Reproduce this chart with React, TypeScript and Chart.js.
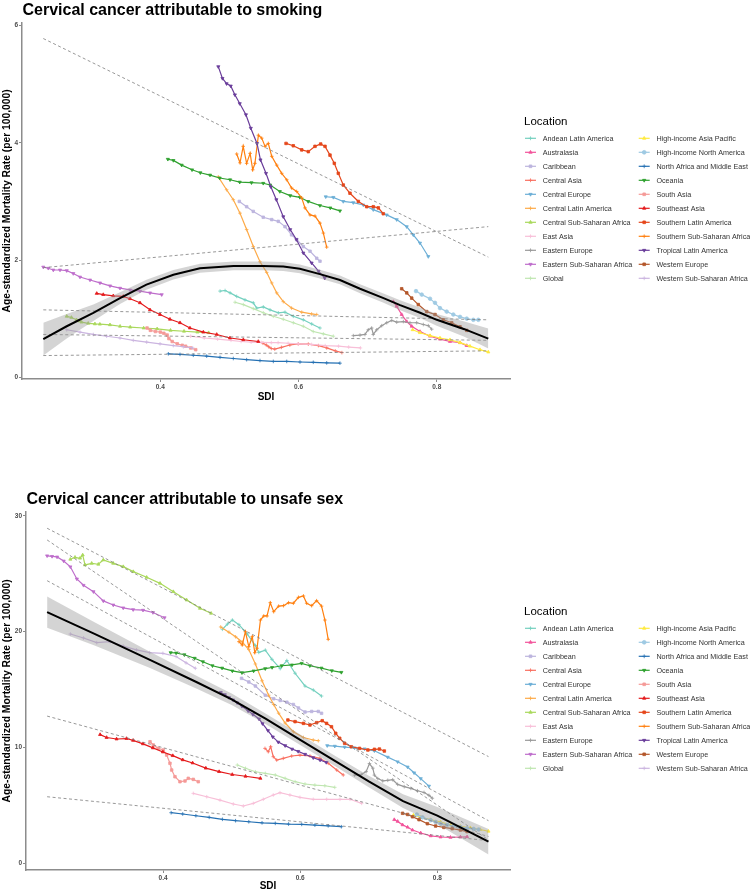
import { useEffect, useRef } from "react";
import { Chart, registerables } from "chart.js";
import { drawPoint } from "chart.js/helpers";

Chart.register(...registerables);

const FONT = '"Liberation Sans", Arial, Helvetica, sans-serif';
Chart.defaults.font.family = FONT;

// ---- Regional trajectories, 1990-2019: SDI and age-standardized mortality per 100,000 ----
const ANDEAN_SDI = [0.4865, 0.4938, 0.501, 0.5106, 0.5226, 0.5346, 0.5396, 0.5491, 0.5588, 0.5708, 0.5805, 0.5925, 0.607, 0.6191, 0.6311];
const ANDEAN_SMOKING = [1.47, 1.48, 1.44, 1.38, 1.32, 1.27, 1.18, 1.2, 1.15, 1.1, 1.11, 1.04, 0.98, 0.91, 0.84];
const ANDEAN_UNSAFE = [20.2, 20.65, 21.0, 20.6, 19.8, 18.8, 18.2, 18.4, 17.6, 16.8, 17.5, 16.4, 15.3, 14.95, 14.43];

const AUSTRALASIA_SDI = [0.7372, 0.7421, 0.7493, 0.7566, 0.7638, 0.7758, 0.7903, 0.8047, 0.8192, 0.8337, 0.8434];
const AUSTRALASIA_SMOKING = [1.29, 1.21, 1.07, 0.95, 0.87, 0.78, 0.7, 0.65, 0.61, 0.59, 0.54];
const AUSTRALASIA_UNSAFE = [3.75, 3.6, 3.3, 3.1, 2.85, 2.6, 2.35, 2.25, 2.22, 2.25, 2.27];

const CARIBBEAN_SDI = [0.5144, 0.525, 0.5346, 0.549, 0.5613, 0.5708, 0.5805, 0.59, 0.5974, 0.607, 0.6167, 0.6264, 0.6311];
const CARIBBEAN_SMOKING = [3.0, 2.91, 2.83, 2.73, 2.69, 2.66, 2.57, 2.43, 2.35, 2.23, 2.15, 2.03, 1.98];
const CARIBBEAN_UNSAFE = [15.96, 15.65, 15.3, 14.5, 14.2, 14.05, 13.9, 13.7, 13.4, 13.05, 13.1, 13.1, 12.94];

const CENTRAL_ASIA_SDI = [0.5486, 0.5534, 0.5569, 0.5607, 0.5657, 0.5753, 0.5875, 0.5997, 0.6142, 0.6288, 0.6409, 0.6532, 0.6628];
const CENTRAL_ASIA_SMOKING = [0.58, 0.55, 0.52, 0.49, 0.48, 0.51, 0.55, 0.57, 0.565, 0.54, 0.5, 0.45, 0.42];
const CENTRAL_ASIA_UNSAFE = [9.91, 9.62, 10.05, 9.19, 8.9, 9.05, 9.25, 9.33, 9.25, 9.05, 8.62, 8.04, 7.61];

const CENTRAL_EUROPE_SDI = [0.6394, 0.6504, 0.6648, 0.6793, 0.6938, 0.7082, 0.7276, 0.7421, 0.7566, 0.7661, 0.7758, 0.7878];
const CENTRAL_EUROPE_SMOKING = [3.08, 3.07, 3.0, 2.98, 2.94, 2.86, 2.77, 2.69, 2.57, 2.43, 2.29, 2.06];
const CENTRAL_EUROPE_UNSAFE = [10.15, 10.1, 10.02, 9.96, 9.87, 9.7, 9.15, 8.75, 8.3, 7.8, 7.3, 6.65];

const CENTRAL_LATAM_SDI = [0.484, 0.496, 0.5057, 0.5154, 0.525, 0.5346, 0.5443, 0.554, 0.5613, 0.5685, 0.578, 0.59, 0.6047, 0.619, 0.6264];
const CENTRAL_LATAM_SMOKING = [3.42, 3.2, 3.03, 2.8, 2.52, 2.23, 1.97, 1.79, 1.61, 1.44, 1.29, 1.18, 1.11, 1.08, 1.07];
const CENTRAL_LATAM_UNSAFE = [20.4, 19.95, 19.55, 19.1, 18.45, 17.2, 15.75, 14.5, 13.7, 12.95, 12.1, 11.35, 10.85, 10.63, 10.57];

const CENTRAL_SSA_SDI = [0.2647, 0.2715, 0.2788, 0.2827, 0.2861, 0.2958, 0.3055, 0.3127, 0.3273, 0.3419, 0.3565, 0.376, 0.3955, 0.4149, 0.4344, 0.4538, 0.47];
const CENTRAL_SSA_SMOKING = [1.04, 1.02, 0.98, 0.96, 0.94, 0.92, 0.91, 0.905, 0.895, 0.87, 0.855, 0.84, 0.825, 0.8, 0.785, 0.77, 0.76];
const CENTRAL_SSA_UNSAFE = [26.25, 26.42, 26.34, 26.62, 25.76, 25.9, 25.82, 26.19, 25.9, 25.61, 25.18, 24.69, 24.17, 23.45, 22.73, 22.01, 21.58];

const EAST_ASIA_SDI = [0.444, 0.4636, 0.483, 0.5024, 0.517, 0.5315, 0.5461, 0.5607, 0.5705, 0.585, 0.5997, 0.619, 0.6386, 0.658, 0.6726, 0.6896];
const EAST_ASIA_SMOKING = [0.7, 0.67, 0.65, 0.63, 0.61, 0.6, 0.595, 0.59, 0.59, 0.58, 0.57, 0.56, 0.54, 0.53, 0.515, 0.5];
const EAST_ASIA_UNSAFE = [6.02, 5.73, 5.44, 5.1, 4.93, 5.16, 5.51, 5.88, 6.08, 5.88, 5.68, 5.51, 5.51, 5.51, 5.51, 5.16];

const EASTERN_EUROPE_SDI = [0.6793, 0.689, 0.6962, 0.701, 0.7059, 0.7082, 0.7132, 0.7204, 0.7277, 0.7349, 0.7421, 0.7517, 0.7613, 0.771, 0.7806, 0.7878, 0.7927];
const EASTERN_EUROPE_SMOKING = [0.71, 0.72, 0.73, 0.81, 0.84, 0.73, 0.81, 0.88, 0.93, 0.97, 0.94, 0.95, 0.93, 0.93, 0.9, 0.88, 0.82];
const EASTERN_EUROPE_UNSAFE = [7.6, 7.65, 7.9, 8.6, 8.2, 7.6, 7.3, 7.1, 7.15, 7.2, 6.8, 6.6, 6.45, 6.25, 6.1, 5.85, 5.6];

const EASTERN_SSA_SDI = [0.2308, 0.238, 0.2453, 0.255, 0.2647, 0.2742, 0.2839, 0.2984, 0.3128, 0.3273, 0.3418, 0.3563, 0.3707, 0.3852, 0.4021];
const EASTERN_SSA_SMOKING = [1.88, 1.86, 1.83, 1.83, 1.82, 1.77, 1.71, 1.66, 1.61, 1.56, 1.52, 1.49, 1.47, 1.44, 1.41];
const EASTERN_SSA_UNSAFE = [26.55, 26.5, 26.45, 26.1, 25.6, 24.55, 24.0, 23.45, 22.65, 22.3, 22.05, 21.9, 21.85, 21.65, 21.2];

const GLOBAL_SDI = [0.5082, 0.5202, 0.5346, 0.5491, 0.5636, 0.578, 0.5925, 0.607, 0.6214, 0.6359, 0.6504];
const GLOBAL_SMOKING = [1.28, 1.24, 1.17, 1.1, 1.04, 0.99, 0.93, 0.87, 0.78, 0.74, 0.7];
const GLOBAL_UNSAFE = [8.47, 8.19, 7.89, 7.75, 7.61, 7.32, 7.03, 6.83, 6.74, 6.68, 6.54];

const HI_ASIA_PACIFIC_SDI = [0.7652, 0.7758, 0.7903, 0.8047, 0.8192, 0.8337, 0.8481, 0.8626, 0.8746];
const HI_ASIA_PACIFIC_SMOKING = [0.81, 0.76, 0.71, 0.67, 0.64, 0.59, 0.53, 0.47, 0.43];
const HI_ASIA_PACIFIC_UNSAFE = [4.15, 3.95, 3.75, 3.55, 3.3, 3.17, 3.05, 2.9, 2.75];

const HI_NORTH_AMERICA_SDI = [0.77, 0.7783, 0.7903, 0.7975, 0.8047, 0.8144, 0.824, 0.8337, 0.8434, 0.853, 0.8602];
const HI_NORTH_AMERICA_SMOKING = [1.47, 1.41, 1.34, 1.27, 1.18, 1.12, 1.07, 1.03, 1.0, 0.98, 0.98];
const HI_NORTH_AMERICA_UNSAFE = [4.2, 3.95, 3.7, 3.55, 3.4, 3.3, 3.2, 3.1, 3.0, 2.95, 2.9];

const NORTH_AFRICA_ME_SDI = [0.4117, 0.4286, 0.4478, 0.4672, 0.4865, 0.5057, 0.525, 0.5443, 0.5636, 0.583, 0.6022, 0.6214, 0.6408, 0.66];
const NORTH_AFRICA_ME_SMOKING = [0.4, 0.39, 0.375, 0.36, 0.34, 0.32, 0.3, 0.285, 0.27, 0.27, 0.26, 0.255, 0.245, 0.24];
const NORTH_AFRICA_ME_UNSAFE = [4.35, 4.24, 4.09, 3.95, 3.78, 3.66, 3.57, 3.48, 3.43, 3.37, 3.34, 3.28, 3.22, 3.14];

const OCEANIA_SDI = [0.411, 0.419, 0.431, 0.446, 0.458, 0.472, 0.486, 0.501, 0.515, 0.532, 0.549, 0.559, 0.573, 0.588, 0.602, 0.614, 0.631, 0.646, 0.66];
const OCEANIA_SMOKING = [3.72, 3.7, 3.62, 3.54, 3.49, 3.45, 3.4, 3.37, 3.33, 3.32, 3.31, 3.28, 3.17, 3.1, 3.07, 3.0, 2.93, 2.89, 2.84];
const OCEANIA_UNSAFE = [18.18, 18.15, 18.0, 17.7, 17.4, 17.05, 16.85, 16.6, 16.45, 16.6, 16.8, 16.9, 17.05, 17.12, 17.26, 17.05, 16.85, 16.62, 16.48];

const SOUTH_ASIA_SDI = [0.3809, 0.3857, 0.393, 0.4003, 0.4052, 0.41, 0.4125, 0.4173, 0.4246, 0.4319, 0.4367, 0.444, 0.4513];
const SOUTH_ASIA_SMOKING = [0.84, 0.8, 0.78, 0.77, 0.75, 0.72, 0.66, 0.61, 0.57, 0.545, 0.53, 0.5, 0.47];
const SOUTH_ASIA_UNSAFE = [10.48, 10.2, 9.91, 9.77, 9.33, 8.62, 8.04, 7.46, 7.03, 7.09, 7.32, 7.23, 7.03];

const SOUTHEAST_ASIA_SDI = [0.3081, 0.3176, 0.3321, 0.3466, 0.3563, 0.3707, 0.3852, 0.3997, 0.4141, 0.4286, 0.443, 0.4623, 0.4817, 0.5009, 0.5202, 0.5419];
const SOUTHEAST_ASIA_SMOKING = [1.43, 1.41, 1.39, 1.38, 1.34, 1.27, 1.15, 1.07, 0.99, 0.93, 0.84, 0.77, 0.73, 0.67, 0.64, 0.61];
const SOUTHEAST_ASIA_UNSAFE = [11.1, 10.85, 10.72, 10.76, 10.6, 10.3, 9.95, 9.6, 9.28, 8.92, 8.65, 8.2, 7.9, 7.65, 7.5, 7.32];

const SOUTHERN_LATAM_SDI = [0.582, 0.5925, 0.6047, 0.6142, 0.6239, 0.6321, 0.6384, 0.6456, 0.6518, 0.6576, 0.6648, 0.6745, 0.6866, 0.6987, 0.7082, 0.7155, 0.7227];
const SOUTHERN_LATAM_SMOKING = [3.99, 3.95, 3.88, 3.85, 3.94, 3.98, 3.94, 3.79, 3.65, 3.48, 3.28, 3.14, 3.0, 2.91, 2.91, 2.89, 2.79];
const SOUTHERN_LATAM_UNSAFE = [12.36, 12.22, 12.07, 11.93, 12.13, 12.3, 12.07, 11.78, 11.21, 10.78, 10.35, 10.05, 9.91, 9.77, 9.83, 9.85, 9.68];

const SOUTHERN_SSA_SDI = [0.5106, 0.5154, 0.52, 0.525, 0.53, 0.5338, 0.537, 0.542, 0.5468, 0.5516, 0.5563, 0.5613, 0.5685, 0.5757, 0.583, 0.59, 0.5974, 0.6047, 0.6094, 0.6167, 0.6239, 0.6311, 0.636, 0.6408];
const SOUTHERN_SSA_SMOKING = [3.81, 3.66, 3.94, 3.65, 3.82, 3.54, 3.65, 4.13, 4.08, 3.94, 3.99, 3.77, 3.62, 3.48, 3.37, 3.23, 3.17, 3.06, 2.89, 2.77, 2.75, 2.63, 2.46, 2.22];
const SOUTHERN_SSA_UNSAFE = [19.13, 18.84, 19.99, 18.7, 19.56, 18.18, 18.56, 21.0, 21.35, 21.35, 22.5, 21.72, 22.2, 22.24, 22.5, 22.45, 22.96, 23.08, 22.45, 22.24, 22.67, 22.2, 21.0, 19.33];

const TROPICAL_LATAM_SDI = [0.484, 0.49, 0.496, 0.502, 0.508, 0.515, 0.524, 0.531, 0.54, 0.545, 0.553, 0.56, 0.568, 0.578, 0.588, 0.597, 0.607, 0.619, 0.629, 0.638];
const TROPICAL_LATAM_SMOKING = [5.3, 5.1, 5.01, 4.97, 4.82, 4.67, 4.48, 4.25, 3.99, 3.71, 3.48, 3.25, 3.03, 2.74, 2.52, 2.35, 2.12, 1.95, 1.81, 1.69];
const TROPICAL_LATAM_UNSAFE = [14.75, 14.55, 14.3, 14.1, 13.85, 13.55, 13.15, 12.85, 12.45, 12.05, 11.45, 10.9, 10.45, 10.15, 9.85, 9.65, 9.4, 9.1, 8.9, 8.7];

const WESTERN_EUROPE_SDI = [0.7493, 0.7566, 0.7638, 0.7733, 0.7855, 0.7975, 0.8095, 0.8217, 0.8337, 0.8434];
const WESTERN_EUROPE_SMOKING = [1.51, 1.44, 1.35, 1.24, 1.12, 1.07, 0.98, 0.93, 0.86, 0.8];
const WESTERN_EUROPE_UNSAFE = [4.3, 4.2, 4.0, 3.75, 3.4, 3.2, 3.08, 2.97, 2.85, 2.72];

const WESTERN_SSA_SDI = [0.2647, 0.2839, 0.3032, 0.3225, 0.3418, 0.361, 0.3804, 0.3997, 0.4189, 0.4334, 0.447];
const WESTERN_SSA_SMOKING = [0.81, 0.77, 0.73, 0.7, 0.67, 0.63, 0.6, 0.57, 0.54, 0.52, 0.5];
const WESTERN_SSA_UNSAFE = [19.79, 19.45, 19.05, 19.13, 18.75, 18.42, 18.18, 18.12, 17.85, 17.3, 16.83];

// ---- Smoothed association (fit and half-width of its confidence band) ----
const SMOOTH_SMOKING_SDI = [0.2308, 0.2647, 0.3032, 0.3418, 0.38, 0.419, 0.4575, 0.506, 0.549, 0.578, 0.602, 0.631, 0.66, 0.689, 0.723, 0.747, 0.776, 0.8, 0.84, 0.8746];
const SMOOTH_SMOKING_FIT = [0.65, 0.87, 1.1, 1.35, 1.58, 1.75, 1.86, 1.9, 1.9, 1.89, 1.85, 1.76, 1.66, 1.51, 1.35, 1.23, 1.1, 0.98, 0.82, 0.66];
const SMOOTH_SMOKING_HALF = [0.28, 0.21, 0.14, 0.1, 0.085, 0.08, 0.075, 0.075, 0.075, 0.075, 0.075, 0.075, 0.075, 0.075, 0.08, 0.085, 0.09, 0.1, 0.13, 0.17];

const SMOOTH_UNSAFE_SDI = [0.2308, 0.3, 0.38, 0.45, 0.5, 0.55, 0.6, 0.65, 0.7, 0.75, 0.8, 0.8746];
const SMOOTH_UNSAFE_FIT = [21.68, 19.8, 17.58, 15.6, 14.15, 12.45, 10.65, 8.85, 7.05, 5.35, 4.1, 1.85];
const SMOOTH_UNSAFE_HALF = [1.35, 1.0, 0.7, 0.55, 0.5, 0.45, 0.45, 0.45, 0.5, 0.6, 0.75, 1.1];

// ---- Reference lines: value at the lowest and highest observed SDI ----
const REF_SDI = [0.2308, 0.8746];
const REF_SMOKING = [
  [5.78, 2.05],
  [1.87, 2.57],
  [1.15, 0.98],
  [0.73, 0.63],
  [0.37, 0.45],
];
const REF_UNSAFE = [
  [28.93, 9.2],
  [27.92, 2.0],
  [24.4, 3.66],
  [12.7, 2.3],
  [5.73, 1.94],
];

const SMOKING_Y_TICKS = [0, 2, 4, 6];
const UNSAFE_Y_TICKS = [0, 10, 20, 30];
const SDI_TICKS = [0.4, 0.6, 0.8];

type Region = {
  name: string;
  color: string;
  marker: string;
  rot?: number;
  sdi: number[];
  smoking: number[];
  unsafe: number[];
};

const REGIONS: Region[] = [
  { name: "Andean Latin America", color: "#74D0BF", marker: "cross", sdi: ANDEAN_SDI, smoking: ANDEAN_SMOKING, unsafe: ANDEAN_UNSAFE },
  { name: "Australasia", color: "#F2539A", marker: "triangle", sdi: AUSTRALASIA_SDI, smoking: AUSTRALASIA_SMOKING, unsafe: AUSTRALASIA_UNSAFE },
  { name: "Caribbean", color: "#BDB5DE", marker: "rect", sdi: CARIBBEAN_SDI, smoking: CARIBBEAN_SMOKING, unsafe: CARIBBEAN_UNSAFE },
  { name: "Central Asia", color: "#F96E5F", marker: "cross", sdi: CENTRAL_ASIA_SDI, smoking: CENTRAL_ASIA_SMOKING, unsafe: CENTRAL_ASIA_UNSAFE },
  { name: "Central Europe", color: "#6BAED6", marker: "triangle", rot: 180, sdi: CENTRAL_EUROPE_SDI, smoking: CENTRAL_EUROPE_SMOKING, unsafe: CENTRAL_EUROPE_UNSAFE },
  { name: "Central Latin America", color: "#FDAA48", marker: "cross", sdi: CENTRAL_LATAM_SDI, smoking: CENTRAL_LATAM_SMOKING, unsafe: CENTRAL_LATAM_UNSAFE },
  { name: "Central Sub-Saharan Africa", color: "#A9D85B", marker: "triangle", sdi: CENTRAL_SSA_SDI, smoking: CENTRAL_SSA_SMOKING, unsafe: CENTRAL_SSA_UNSAFE },
  { name: "East Asia", color: "#F8BFD8", marker: "cross", sdi: EAST_ASIA_SDI, smoking: EAST_ASIA_SMOKING, unsafe: EAST_ASIA_UNSAFE },
  { name: "Eastern Europe", color: "#999999", marker: "cross", sdi: EASTERN_EUROPE_SDI, smoking: EASTERN_EUROPE_SMOKING, unsafe: EASTERN_EUROPE_UNSAFE },
  { name: "Eastern Sub-Saharan Africa", color: "#BE6DCB", marker: "triangle", rot: 180, sdi: EASTERN_SSA_SDI, smoking: EASTERN_SSA_SMOKING, unsafe: EASTERN_SSA_UNSAFE },
  { name: "Global", color: "#BFE6B0", marker: "cross", sdi: GLOBAL_SDI, smoking: GLOBAL_SMOKING, unsafe: GLOBAL_UNSAFE },
  { name: "High-income Asia Pacific", color: "#FFEA3D", marker: "triangle", sdi: HI_ASIA_PACIFIC_SDI, smoking: HI_ASIA_PACIFIC_SMOKING, unsafe: HI_ASIA_PACIFIC_UNSAFE },
  { name: "High-income North America", color: "#9FCAE3", marker: "circle", sdi: HI_NORTH_AMERICA_SDI, smoking: HI_NORTH_AMERICA_SMOKING, unsafe: HI_NORTH_AMERICA_UNSAFE },
  { name: "North Africa and Middle East", color: "#2470B3", marker: "cross", sdi: NORTH_AFRICA_ME_SDI, smoking: NORTH_AFRICA_ME_SMOKING, unsafe: NORTH_AFRICA_ME_UNSAFE },
  { name: "Oceania", color: "#2FA12F", marker: "triangle", rot: 180, sdi: OCEANIA_SDI, smoking: OCEANIA_SMOKING, unsafe: OCEANIA_UNSAFE },
  { name: "South Asia", color: "#F59A98", marker: "rect", sdi: SOUTH_ASIA_SDI, smoking: SOUTH_ASIA_SMOKING, unsafe: SOUTH_ASIA_UNSAFE },
  { name: "Southeast Asia", color: "#E41A1C", marker: "triangle", sdi: SOUTHEAST_ASIA_SDI, smoking: SOUTHEAST_ASIA_SMOKING, unsafe: SOUTHEAST_ASIA_UNSAFE },
  { name: "Southern Latin America", color: "#E5461B", marker: "rect", sdi: SOUTHERN_LATAM_SDI, smoking: SOUTHERN_LATAM_SMOKING, unsafe: SOUTHERN_LATAM_UNSAFE },
  { name: "Southern Sub-Saharan Africa", color: "#FF7F0E", marker: "cross", sdi: SOUTHERN_SSA_SDI, smoking: SOUTHERN_SSA_SMOKING, unsafe: SOUTHERN_SSA_UNSAFE },
  { name: "Tropical Latin America", color: "#6A3D9A", marker: "triangle", rot: 180, sdi: TROPICAL_LATAM_SDI, smoking: TROPICAL_LATAM_SMOKING, unsafe: TROPICAL_LATAM_UNSAFE },
  { name: "Western Europe", color: "#B4572B", marker: "rect", sdi: WESTERN_EUROPE_SDI, smoking: WESTERN_EUROPE_SMOKING, unsafe: WESTERN_EUROPE_UNSAFE },
  { name: "Western Sub-Saharan Africa", color: "#CBB5E0", marker: "cross", sdi: WESTERN_SSA_SDI, smoking: WESTERN_SSA_SMOKING, unsafe: WESTERN_SSA_UNSAFE },
];

type PanelSpec = {
  title: string;
  measure: "smoking" | "unsafe";
  height: number;
  yMin: number;
  yMax: number;
  yTicks: number[];
  yAxisWidth: number;
  xAxisHeight: number;
  padTop: number;
  padBottom: number;
  titleBaseline: number;
  legendTitleBaseline: number;
  legendFirstRow: number;
  smoothSdi: number[];
  smoothFit: number[];
  smoothHalf: number[];
  refLines: number[][];
};

const PANELS: PanelSpec[] = [
  {
    title: "Cervical cancer attributable to smoking",
    measure: "smoking",
    height: 446,
    yMin: -0.03,
    yMax: 6.05,
    yTicks: SMOKING_Y_TICKS,
    yAxisWidth: 22,
    xAxisHeight: 25,
    padTop: 22.7,
    padBottom: 42,
    titleBaseline: 15,
    legendTitleBaseline: 125,
    legendFirstRow: 138.3,
    smoothSdi: SMOOTH_SMOKING_SDI,
    smoothFit: SMOOTH_SMOKING_FIT,
    smoothHalf: SMOOTH_SMOKING_HALF,
    refLines: REF_SMOKING,
  },
  {
    title: "Cervical cancer attributable to unsafe sex",
    measure: "unsafe",
    height: 447,
    yMin: -0.6,
    yMax: 30.36,
    yTicks: UNSAFE_Y_TICKS,
    yAxisWidth: 26,
    xAxisHeight: 23,
    padTop: 65.7,
    padBottom: 0,
    titleBaseline: 58,
    legendTitleBaseline: 169,
    legendFirstRow: 182.3,
    smoothSdi: SMOOTH_UNSAFE_SDI,
    smoothFit: SMOOTH_UNSAFE_FIT,
    smoothHalf: SMOOTH_UNSAFE_HALF,
    refLines: REF_UNSAFE,
  },
];

const AXIS_GREY = "#8c8c8c";

// Panel title and the two-column "Location" key, painted next to the plot area.
const panelDecor = {
  id: "panelDecor",
  afterDraw(chart: any, _args: any, opts: any) {
    const ctx: CanvasRenderingContext2D = chart.ctx;
    ctx.save();
    ctx.fillStyle = "#000";
    ctx.textAlign = "left";
    ctx.textBaseline = "alphabetic";
    ctx.font = `bold 16px ${FONT}`;
    ctx.fillText(opts.title, chart.chartArea.left + 0.5, opts.titleBaseline);

    ctx.font = `11.5px ${FONT}`;
    ctx.fillText("Location", 524, opts.legendTitleBaseline);

    const perColumn = Math.ceil(REGIONS.length / 2);
    REGIONS.forEach((r, i) => {
      const col = Math.floor(i / perColumn);
      const row = i % perColumn;
      const y = opts.legendFirstRow + row * 14;
      const x0 = col === 0 ? 525 : 638.7;
      ctx.strokeStyle = r.color;
      ctx.fillStyle = r.color;
      ctx.lineWidth = 1.2;
      ctx.beginPath();
      ctx.moveTo(x0, y);
      ctx.lineTo(x0 + 11, y);
      ctx.stroke();
      ctx.lineWidth = 0.8;
      drawPoint(ctx, { pointStyle: r.marker as any, rotation: r.rot ?? 0, radius: 1.9, borderWidth: 0.8 }, x0 + 5.5, y);
      ctx.fillStyle = "#333";
      ctx.font = `7.2px ${FONT}`;
      ctx.textBaseline = "middle";
      ctx.fillText(r.name, x0 + 17.7, y + 0.3);
      ctx.textBaseline = "alphabetic";
    });
    ctx.restore();
  },
};

function buildDatasets(spec: PanelSpec) {
  const sets: any[] = [];
  const fitPts = spec.smoothSdi.map((x, i) => ({ x, y: spec.smoothFit[i] }));
  const lowPts = spec.smoothSdi.map((x, i) => ({ x, y: spec.smoothFit[i] - spec.smoothHalf[i] }));
  const highPts = spec.smoothSdi.map((x, i) => ({ x, y: spec.smoothFit[i] + spec.smoothHalf[i] }));

  sets.push({ label: "fit", data: fitPts, borderColor: "#000", borderWidth: 2, pointRadius: 0, fill: false, order: 0 });
  sets.push({ label: "band-low", data: lowPts, borderColor: "rgba(0,0,0,0)", borderWidth: 0, pointRadius: 0, fill: false, order: 1 });
  sets.push({
    label: "band-high",
    data: highPts,
    borderColor: "rgba(0,0,0,0)",
    borderWidth: 0,
    pointRadius: 0,
    fill: 1,
    backgroundColor: "rgba(153,153,153,0.42)",
    order: 1,
  });

  spec.refLines.forEach((ends, k) => {
    sets.push({
      label: `ref-${k}`,
      data: REF_SDI.map((x, i) => ({ x, y: ends[i] })),
      borderColor: "#7d7d7d",
      borderWidth: 0.8,
      borderDash: [3, 2.5],
      pointRadius: 0,
      fill: false,
      order: 2,
    });
  });

  REGIONS.forEach((r, i) => {
    const values = spec.measure === "smoking" ? r.smoking : r.unsafe;
    sets.push({
      label: r.name,
      data: r.sdi.map((x, j) => ({ x, y: values[j] })),
      borderColor: r.color,
      backgroundColor: r.color,
      borderWidth: 1.2,
      pointStyle: r.marker,
      pointRotation: r.rot ?? 0,
      pointRadius: 1.8,
      pointBorderWidth: 0.8,
      pointBackgroundColor: r.color,
      pointBorderColor: r.color,
      fill: false,
      order: 100 - i,
    });
  });
  return sets;
}

function Panel({ spec }: { spec: PanelSpec }) {
  const ref = useRef<HTMLCanvasElement>(null);
  useEffect(() => {
    if (!ref.current) return;
    const chart = new Chart(ref.current, {
      type: "line",
      data: { datasets: buildDatasets(spec) },
      plugins: [panelDecor],
      options: {
        animation: false,
        responsive: false,
        devicePixelRatio: 1,
        events: [],
        layout: { padding: { left: 0, top: spec.padTop, right: 240, bottom: spec.padBottom } },
        elements: { line: { tension: 0 } },
        plugins: {
          legend: { display: false },
          tooltip: { enabled: false },
          title: { display: false },
          panelDecor: {
            title: spec.title,
            titleBaseline: spec.titleBaseline,
            legendTitleBaseline: spec.legendTitleBaseline,
            legendFirstRow: spec.legendFirstRow,
          },
        } as any,
        scales: {
          x: {
            type: "linear",
            min: 0.2,
            max: 0.906,
            afterBuildTicks: (s: any) => {
              s.ticks = SDI_TICKS.map((v) => ({ value: v }));
            },
            afterFit: (s: any) => {
              s.height = spec.xAxisHeight;
            },
            ticks: {
              autoSkip: false,
              maxRotation: 0,
              padding: 1.5,
              color: "#4d4d4d",
              font: { size: 6.5, weight: "bold" },
              callback: (v: any) => Number(v).toFixed(1),
            },
            grid: { drawOnChartArea: false, drawTicks: true, tickLength: 3, color: AXIS_GREY, lineWidth: 1 },
            border: { display: true, color: AXIS_GREY, width: 1.5 },
            title: {
              display: true,
              text: "SDI",
              color: "#000",
              font: { size: 10, weight: "bold" },
              padding: { top: 0, bottom: 1 },
            },
          },
          y: {
            type: "linear",
            min: spec.yMin,
            max: spec.yMax,
            afterBuildTicks: (s: any) => {
              s.ticks = spec.yTicks.map((v) => ({ value: v }));
            },
            afterFit: (s: any) => {
              s.width = spec.yAxisWidth;
            },
            ticks: {
              autoSkip: false,
              padding: 1,
              color: "#4d4d4d",
              font: { size: 6.5, weight: "bold" },
              callback: (v: any) => String(v),
            },
            grid: { drawOnChartArea: false, drawTicks: true, tickLength: 3, color: AXIS_GREY, lineWidth: 1 },
            border: { display: true, color: AXIS_GREY, width: 1.5 },
            title: {
              display: true,
              text: "Age-standardized Mortality Rate (per 100,000)",
              color: "#000",
              font: { size: 10.3, weight: "bold" },
              padding: { top: 1, bottom: 0 },
            },
          },
        },
      } as any,
    });
    return () => chart.destroy();
  }, [spec]);
  return (
    <canvas
      ref={ref}
      width={750}
      height={spec.height}
      style={{ display: "block", width: 750, height: spec.height }}
    />
  );
}

export default function App() {
  return (
    <div style={{ position: "absolute", left: 0, top: 0, width: 750, height: 893, background: "#fff" }}>
      {PANELS.map((p) => (
        <Panel key={p.measure} spec={p} />
      ))}
    </div>
  );
}
